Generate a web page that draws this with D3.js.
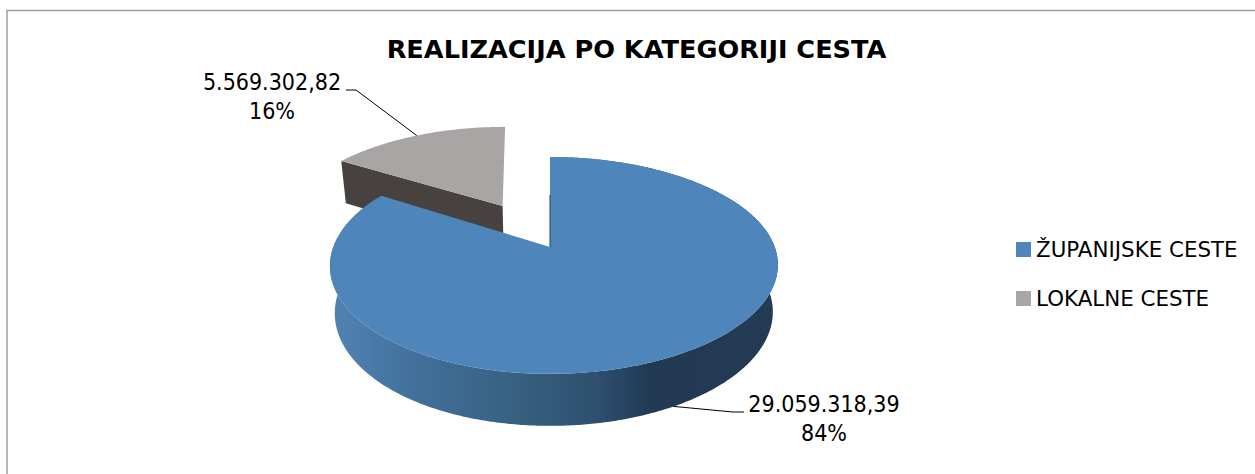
<!DOCTYPE html>
<html>
<head>
<meta charset="utf-8">
<script src="https://cdn.jsdelivr.net/npm/d3@7"></script>
<style>
  html, body { margin: 0; padding: 0; background: #fff; }
  svg { display: block; }
  text { font-family: "DejaVu Sans", sans-serif; fill: #000; }
  .data-label { font-family: "DejaVu Sans Condensed", "DejaVu Sans", sans-serif; font-stretch: condensed; }
</style>
</head>
<body>
<svg id="chart" width="1255" height="474"></svg>
<script>
const chartTitle = "REALIZACIJA PO KATEGORIJI CESTA";
const categories = ["ŽUPANIJSKE CESTE", "LOKALNE CESTE"];
const values = [29059318.39, 5569302.82];

const topColors = ["#4e85bb", "#a9a5a4"];
const legendColors = ["#4f85bb", "#aaa6a5"];
const wallColor = "#474240";

const svg = d3.select("#chart");
const W = 1255, H = 474;

// the frame only shows on the top and left in the source
svg.append("path")
    .attr("d", d3.line()([[7, H], [7, 10.5], [W, 10.5]]))
    .attr("fill", "none")
    .attr("stroke", "#a0a0a0")
    .attr("stroke-width", 1.5);

svg.append("text")
    .attr("x", 636.5).attr("y", 58)
    .attr("text-anchor", "middle")
    .style("font-size", "25.6px")
    .style("font-weight", "bold")
    .text(chartTitle);

const hr = d3.formatLocale({decimal: ",", thousands: ".", grouping: [3], currency: ["", ""]});
const fmtValue = hr.format(",.2f");
const fmtPct = d3.format(".0%");
const total = d3.sum(values);

const pie = d3.pie().sort(null).startAngle(0).endAngle(2 * Math.PI);
const slices = pie(values);
const blue = slices[0], grey = slices[1];
const explodeAngle = (grey.startAngle + grey.endAngle) / 2;
const explode = 0.475;

// perspective disc: angle measured clockwise from the far side
const cx = 550, cy = 247;
const R = 220.7, Ry = 105.3, persp = 0.17;
const thick = 46.2;

function place(x, z, lean, lower) {
    const s = 1 / (1 + persp * z);
    const shrink = lower ? 0.978 : 1;
    const sx = cx + (x * R * s + lean) * shrink;
    let sy = cy - z * Ry * s;
    if (lower) sy += thick * Math.pow(s, 0.635);
    return [sx, sy];
}
function project(a, off, lower) {
    const x = Math.sin(a) + off * Math.sin(explodeAngle);
    const z = Math.cos(a) + off * Math.cos(explodeAngle);
    const lean = off ? -4 : 4 * Math.sin(a) ** 2;
    return place(x, z, lean, lower);
}
function apex(off, lower) {
    return place(off * Math.sin(explodeAngle), off * Math.cos(explodeAngle), 0, lower);
}

const line = d3.line();
const rim = (d, off, lower) => d3.range(d.startAngle, d.endAngle, 0.01)
    .concat([d.endAngle]).map(a => project(a, off, lower));

const defs = svg.append("defs");
const sideGrad = defs.append("linearGradient")
    .attr("id", "side")
    .attr("gradientUnits", "userSpaceOnUse")
    .attr("x1", 330).attr("x2", 778).attr("y1", 0).attr("y2", 0);
[[0, "#5183b3"], [0.18, "#42719d"], [0.42, "#37607f"], [0.6, "#2e4f6e"], [0.72, "#213952"], [1, "#233b55"]]
    .forEach(s => sideGrad.append("stop").attr("offset", s[0]).attr("stop-color", s[1]));

const pieG = svg.append("g");

// grey slice, drawn first because it sits behind the blue one
pieG.append("path")
    .attr("d", line([apex(explode, false), project(grey.startAngle, explode, false),
                     project(grey.startAngle, explode, true), apex(explode, true)]) + "Z")
    .attr("fill", wallColor);
pieG.append("path")
    .attr("d", line([apex(explode, false)].concat(rim(grey, explode, false))) + "Z")
    .attr("fill", topColors[1]);

// blue slice: side band, inner wall, top
const blueTop = rim(blue, 0, false);
const blueLow = rim(blue, 0, true);
pieG.append("path")
    .attr("d", line(blueTop.concat(blueLow.slice().reverse())) + "Z")
    .attr("fill", "url(#side)");
pieG.append("path")
    .attr("d", line([apex(0, false)].concat(blueTop)) + "Z")
    .attr("fill", topColors[0]);
pieG.append("path")
    .attr("d", line([[cx, cy - 52], [cx, cy]]))
    .attr("stroke", "#24415f")
    .attr("stroke-width", 1)
    .attr("fill", "none");

// leader lines start at the middle of each slice's rim
const blueMid = (blue.startAngle + blue.endAngle) / 2;
const labels = [
    {i: 0, from: project(blueMid, 0, true), elbow: [733, 412], end: [744, 412], x: 824, y: 412},
    {i: 1, from: project(explodeAngle, explode, false), elbow: [356, 90], end: [346, 90], x: 272, y: 90}
];
labels.forEach(l => {
    svg.append("path")
        .attr("d", line([l.from, l.elbow, l.end]))
        .attr("fill", "none")
        .attr("stroke", "#000")
        .attr("stroke-width", 1);
    const t = svg.append("text")
        .attr("class", "data-label")
        .attr("text-anchor", "middle")
        .style("font-size", "23px");
    t.append("tspan").attr("x", l.x).attr("y", l.y).text(fmtValue(values[l.i]));
    t.append("tspan").attr("x", l.x).attr("y", l.y + 29).text(fmtPct(values[l.i] / total));
});

// legend
const legendY = d3.scalePoint().domain(categories).range([249.5, 298.5]);
const legend = svg.append("g");
categories.forEach((c, i) => {
    legend.append("rect")
        .attr("x", 1016).attr("y", legendY(c) - 7.5)
        .attr("width", 15).attr("height", 15)
        .attr("fill", legendColors[i]);
    legend.append("text")
        .attr("x", 1036).attr("y", legendY(c) + 7)
        .style("font-size", "21.4px")
        .text(c);
});
</script>
</body>
</html>
